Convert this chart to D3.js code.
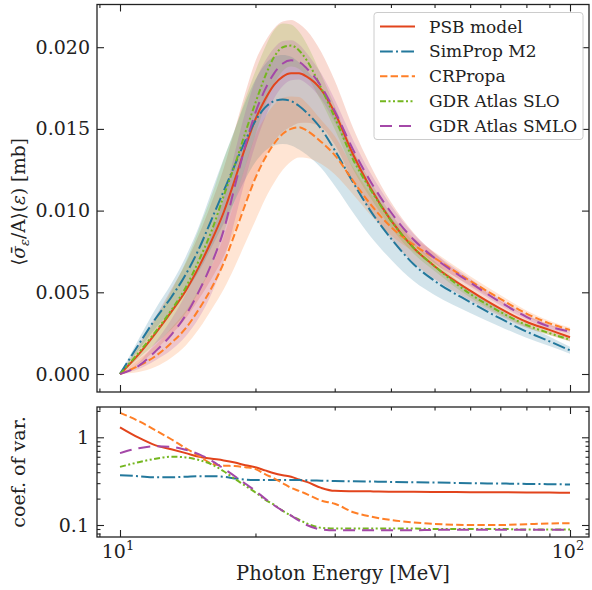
<!DOCTYPE html>
<html><head><meta charset="utf-8">
<script src="https://cdn.jsdelivr.net/npm/d3@7"></script>
<style>body{margin:0;background:#fff} svg{display:block}</style>
</head><body><svg id="c" width="592" height="590"></svg>
<script>
// ---- data ----
const energy = [10,11,12,13,14,15,16,17,18,19,20,21,22,23,24,25,26,28,30,33,36,40,45,50,60,70,80,90,100];

const psbMean  = [0,0.0012,0.0025,0.0038,0.0051,0.0066,0.0082,0.0099,0.0119,0.0139,0.0156,0.0168,0.0177,0.0182,0.0184,0.0184,0.0182,0.0174,0.0160,0.0134,0.0114,0.0094,0.0077,0.0066,0.0051,0.0040,0.0032,0.0027,0.00225];
const simMean  = [0,0.0018,0.0034,0.0047,0.0061,0.0077,0.0095,0.0112,0.0128,0.0143,0.0155,0.0163,0.0167,0.0168,0.0167,0.0164,0.0160,0.0150,0.0137,0.0117,0.0100,0.0083,0.0067,0.0057,0.0044,0.0034,0.0026,0.0020,0.00145];
const crMean   = [0,0.0005,0.0011,0.0019,0.0028,0.0040,0.0053,0.0068,0.0086,0.0104,0.0120,0.0132,0.0141,0.0147,0.0150,0.0151,0.0149,0.0142,0.0134,0.0118,0.0104,0.0090,0.0079,0.0071,0.0057,0.0046,0.0037,0.0031,0.0027];
const sloMean  = [0,0.0013,0.0026,0.0039,0.0053,0.0070,0.0088,0.0109,0.0128,0.0148,0.0166,0.0182,0.0194,0.0200,0.0201,0.0198,0.0192,0.0175,0.0157,0.0131,0.0113,0.0094,0.0077,0.0066,0.0049,0.0038,0.0030,0.0025,0.0021];
const smloMean = [0,0.0005,0.0014,0.0024,0.0036,0.0051,0.0068,0.0088,0.0115,0.0140,0.0160,0.0174,0.0184,0.0190,0.0192,0.0191,0.0187,0.0176,0.0161,0.0137,0.0118,0.0099,0.0082,0.0071,0.0056,0.0044,0.0035,0.0029,0.0026];

const psbCv  = [1.30,0.99,0.81,0.73,0.66,0.60,0.57,0.545,0.515,0.48,0.455,0.42,0.39,0.37,0.355,0.33,0.31,0.265,0.245,0.243,0.242,0.240,0.239,0.238,0.237,0.236,0.235,0.234,0.233];
const simCv  = [0.37,0.36,0.35,0.35,0.355,0.36,0.36,0.355,0.34,0.33,0.326,0.325,0.325,0.325,0.325,0.325,0.323,0.32,0.318,0.315,0.313,0.31,0.307,0.305,0.30,0.297,0.294,0.292,0.29];
const crCv   = [1.9,1.53,1.2,0.95,0.75,0.61,0.50,0.475,0.47,0.455,0.435,0.38,0.34,0.30,0.265,0.245,0.225,0.19,0.175,0.14,0.125,0.114,0.107,0.103,0.100,0.100,0.102,0.104,0.105];
const sloCv  = [0.46,0.52,0.57,0.60,0.59,0.55,0.49,0.41,0.335,0.28,0.235,0.195,0.17,0.145,0.128,0.115,0.104,0.093,0.091,0.091,0.091,0.091,0.091,0.090,0.090,0.090,0.089,0.089,0.089];
const smloCv = [0.66,0.75,0.79,0.78,0.72,0.64,0.54,0.44,0.36,0.295,0.245,0.20,0.168,0.145,0.128,0.112,0.10,0.089,0.087,0.087,0.087,0.087,0.087,0.088,0.088,0.088,0.088,0.088,0.088];

const seriesNames = ["PSB model","SimProp M2","CRPropa","GDR Atlas SLO","GDR Atlas SMLO"];
const yTicksTop = [0,0.005,0.010,0.015,0.020];
const yTicksBottom = [0.1,1];
const xMajorTicks = [10,100];
const xMinorTicks = [9,20,30,40,50,60,70,80,90];
const yMinorBottom = [0.08,0.09,0.2,0.3,0.4,0.5,0.6,0.7,0.8,0.9,2];

// ---- styles ----
const colors = ["#e2441c","#23789c","#ff7f27","#74b61f","#a448a8"];
const dashes = [null,"12.8,3.2,2,3.2","7.4,3.2","6,2.5,2,2.5,2,2.5","12,7"];
const means = [psbMean,simMean,crMean,sloMean,smloMean];
const cvs = [psbCv,simCv,crCv,sloCv,smloCv];
const FONT = "'DejaVu Serif', serif";
const TICKFS = 19;

const svg = d3.select("#c");
const L = 97, R = 589, T1 = 4.5, B1 = 392, T2 = 407, B2 = 537;

const x = d3.scaleLog().domain([10,100]).range([120,570]);
const y1 = d3.scaleLinear().domain([0,0.02]).range([374,47.2]);
const y2 = d3.scaleLog().domain([0.1,1]).range([525,437.3]);

svg.append("defs").html(
  `<clipPath id="cp1"><rect x="${L}" y="${T1}" width="${R-L}" height="${B1-T1}"/></clipPath>
   <clipPath id="cp2"><rect x="${L}" y="${T2}" width="${R-L}" height="${B2-T2}"/></clipPath>`);

// ---- top panel ----
const g1 = svg.append("g").attr("clip-path","url(#cp1)");
means.forEach((m,i)=>{
  const rows = energy.map((e,j)=>({e, lo: m[j]*(1-cvs[i][j]/2), hi: m[j]*(1+cvs[i][j]/2)}));
  g1.append("path").datum(rows)
    .attr("d", d3.area().x(d=>x(d.e)).y0(d=>y1(d.lo)).y1(d=>y1(d.hi)).curve(d3.curveMonotoneX))
    .attr("fill", colors[i]).attr("fill-opacity",0.2).attr("stroke","none");
});
means.forEach((m,i)=>{
  const rows = energy.map((e,j)=>({e, v:m[j]}));
  g1.append("path").datum(rows)
    .attr("d", d3.line().x(d=>x(d.e)).y(d=>y1(d.v)).curve(d3.curveMonotoneX))
    .attr("fill","none").attr("stroke",colors[i]).attr("stroke-width",2)
    .attr("stroke-dasharray",dashes[i]);
});

// ---- bottom panel ----
const g2 = svg.append("g").attr("clip-path","url(#cp2)");
cvs.forEach((c,i)=>{
  const rows = energy.map((e,j)=>({e, v:c[j]}));
  g2.append("path").datum(rows)
    .attr("d", d3.line().x(d=>x(d.e)).y(d=>y2(d.v)).curve(d3.curveMonotoneX))
    .attr("fill","none").attr("stroke",colors[i]).attr("stroke-width",2)
    .attr("stroke-dasharray",dashes[i]);
});

// ---- axes ----
function styleAxis(sel){
  sel.select(".domain").remove();
  sel.selectAll("line").attr("stroke","#222").attr("stroke-width",1.1);
  sel.selectAll("text").attr("font-family",FONT).attr("font-size",TICKFS).attr("fill","#222");
}
function xTicks(yPos, dirTop){
  const mk = dirTop ? d3.axisTop : d3.axisBottom;
  svg.append("g").attr("transform",`translate(0,${yPos})`)
    .call(mk(x).tickValues(xMajorTicks).tickSize(-7).tickFormat("")).call(styleAxis);
  svg.append("g").attr("transform",`translate(0,${yPos})`)
    .call(mk(x).tickValues(xMinorTicks).tickSize(-3.5).tickFormat("")).call(styleAxis);
}
xTicks(B1,false); xTicks(T1,true); xTicks(B2,false); xTicks(T2,true);

svg.append("g").attr("transform",`translate(${L},0)`)
  .call(d3.axisLeft(y1).tickValues(yTicksTop).tickSize(-7).tickPadding(7).tickFormat(d3.format(".3f"))).call(styleAxis);
svg.append("g").attr("transform",`translate(${R},0)`)
  .call(d3.axisRight(y1).tickValues(yTicksTop).tickSize(-7).tickFormat("")).call(styleAxis);

svg.append("g").attr("transform",`translate(${L},0)`)
  .call(d3.axisLeft(y2).tickValues(yTicksBottom).tickSize(-7).tickPadding(8).tickFormat(d=>d>=1?"1":"0.1")).call(styleAxis);
svg.append("g").attr("transform",`translate(${L},0)`)
  .call(d3.axisLeft(y2).tickValues(yMinorBottom).tickSize(-3.5).tickFormat("")).call(styleAxis);
svg.append("g").attr("transform",`translate(${R},0)`)
  .call(d3.axisRight(y2).tickValues(yTicksBottom).tickSize(-7).tickFormat("")).call(styleAxis);
svg.append("g").attr("transform",`translate(${R},0)`)
  .call(d3.axisRight(y2).tickValues(yMinorBottom).tickSize(-3.5).tickFormat("")).call(styleAxis);

// x tick labels 10^1, 10^2
xMajorTicks.forEach(v=>{
  const t = svg.append("text").attr("x",x(v)-2).attr("y",558).attr("text-anchor","middle")
    .attr("font-family",FONT).attr("font-size",TICKFS).attr("fill","#222");
  t.append("tspan").text("10");
  t.append("tspan").attr("font-size",13).attr("dy",-8).text(String(Math.round(Math.log10(v))));
});

// frames
[[T1,B1],[T2,B2]].forEach(([a,b])=>{
  svg.append("rect").attr("x",L).attr("y",a).attr("width",R-L).attr("height",b-a)
    .attr("fill","none").attr("stroke","#222").attr("stroke-width",1.3);
});

// axis labels
svg.append("text").attr("x",(L+R)/2).attr("y",580).attr("text-anchor","middle")
  .attr("font-family",FONT).attr("font-size",19.5).attr("fill","#222").text("Photon Energy [MeV]");

const yl = svg.append("text").attr("transform","translate(25,202) rotate(-90)").attr("text-anchor","middle")
  .attr("font-family",FONT).attr("font-size",18.5).attr("fill","#222");
yl.append("tspan").text("⟨");
yl.append("tspan").attr("font-style","italic").text("σ̄");
yl.append("tspan").attr("font-style","italic").attr("font-size",13).attr("dy",4).text("ε");
yl.append("tspan").attr("dy",-4).text("/A⟩(");
yl.append("tspan").attr("font-style","italic").text("ε");
yl.append("tspan").text(") [mb]");

svg.append("text").attr("transform",`translate(25,${(T2+B2)/2}) rotate(-90)`).attr("text-anchor","middle")
  .attr("font-family",FONT).attr("font-size",19).attr("fill","#222").text("coef. of var.");

// legend
const lg = svg.append("g");
lg.append("rect").attr("x",374).attr("y",12.5).attr("width",209).attr("height",127).attr("rx",3)
  .attr("fill","#fff").attr("fill-opacity",0.8).attr("stroke","#ccc").attr("stroke-width",1);
seriesNames.forEach((n,i)=>{
  const cy = 26.5 + i*24.9;
  lg.append("line").attr("x1",380).attr("x2",415).attr("y1",cy).attr("y2",cy)
    .attr("stroke",colors[i]).attr("stroke-width",2).attr("stroke-dasharray",dashes[i]);
  lg.append("text").attr("x",429).attr("y",cy+6).attr("font-family",FONT).attr("font-size",17)
    .attr("fill","#222").text(n);
});
</script></body></html>
